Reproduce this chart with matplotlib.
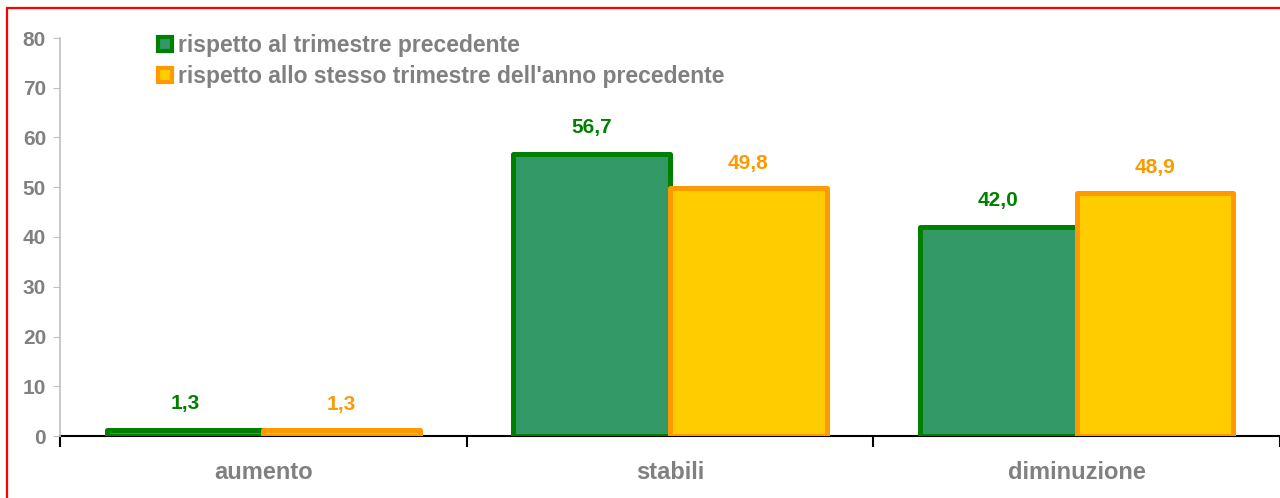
import matplotlib.pyplot as plt
import numpy as np
from matplotlib.lines import Line2D
from matplotlib.patches import Rectangle

# --- dati ---
categorie = ["aumento", "stabili", "diminuzione"]
trim_prec = [1.3, 56.7, 42.0]
anno_prec = [1.3, 49.8, 48.9]
serie = ["rispetto al trimestre precedente",
         "rispetto allo stesso trimestre dell'anno precedente"]

plt.rcParams['font.family'] = ['Liberation Sans', 'DejaVu Sans']

verde_bordo, verde = '#008000', '#339966'
arancio_bordo, giallo = '#FF9900', '#FFCC00'
grigio = '#808080'

fig = plt.figure(figsize=(12.8, 4.98), dpi=100)
ax = fig.add_axes([60 / 1280, 62 / 498, 1220 / 1280, 398 / 498])

x = np.arange(len(categorie))
w = 0.385
ax.bar(x - w / 2, trim_prec, w, color=verde, edgecolor=verde_bordo, linewidth=3.6,
       joinstyle='round', zorder=2)
ax.bar(x + w / 2, anno_prec, w, color=giallo, edgecolor=arancio_bordo, linewidth=3.6,
       joinstyle='round', zorder=3)

# etichette dei valori
for xi, v in zip(x, trim_prec):
    ax.annotate(f"{v:.1f}".replace('.', ','), (xi - w / 2, v), xytext=(0, 12),
                textcoords='offset points', ha='center', va='bottom',
                color=verde_bordo, fontsize=15, fontweight='bold')
for xi, v in zip(x, anno_prec):
    ax.annotate(f"{v:.1f}".replace('.', ','), (xi + w / 2, v), xytext=(0, 11),
                textcoords='offset points', ha='center', va='bottom',
                color=arancio_bordo, fontsize=15, fontweight='bold')

ax.set_xlim(-0.5, 2.5)
ax.set_ylim(0, 80)
ax.set_yticks(range(0, 81, 10))
ax.set_xticks([-0.5, 0.5, 1.5, 2.5])
ax.set_xticklabels([])
ax.set_xticks(x, minor=True)
ax.set_xticklabels(categorie, minor=True)
ax.tick_params(axis='x', which='major', length=8, width=1.5, color='black', direction='out')
ax.tick_params(axis='x', which='minor', length=0, pad=18, labelsize=17, labelcolor=grigio)
ax.tick_params(axis='y', length=5, color='#c0c0c0', labelsize=15, labelcolor=grigio, pad=5)
for lab in ax.get_xticklabels(minor=True) + ax.get_yticklabels():
    lab.set_fontweight('bold')

for s in ['top', 'right']:
    ax.spines[s].set_visible(False)
ax.spines['left'].set_color('#c0c0c0')
ax.spines['left'].set_linewidth(1.2)
ax.spines['bottom'].set_color('black')
ax.spines['bottom'].set_linewidth(1.5)
ax.spines['bottom'].set_zorder(1)

# legenda
handles = [
    Line2D([], [], linestyle='none', marker='s', markersize=10, markerfacecolor=verde,
           markeredgecolor=verde_bordo, markeredgewidth=3),
    Line2D([], [], linestyle='none', marker='s', markersize=10, markerfacecolor=giallo,
           markeredgecolor=arancio_bordo, markeredgewidth=3),
]
leg = fig.legend(handles, serie, loc='upper left', bbox_to_anchor=(136 / 1280, 1 - 13 / 498),
                 frameon=False, handlelength=0.7, handletextpad=0.25, labelspacing=0.36,
                 prop={'size': 16.5, 'weight': 'bold'})
for t in leg.get_texts():
    t.set_color(grigio)

# cornice rossa
fig.patches.append(Rectangle((7 / 1280, -0.05), 1.1, 1 - 8 / 498 + 0.05,
                             transform=fig.transFigure, fill=False,
                             edgecolor='#FF0000', linewidth=1.6, zorder=10))

fig.savefig("out.png", dpi=100)
